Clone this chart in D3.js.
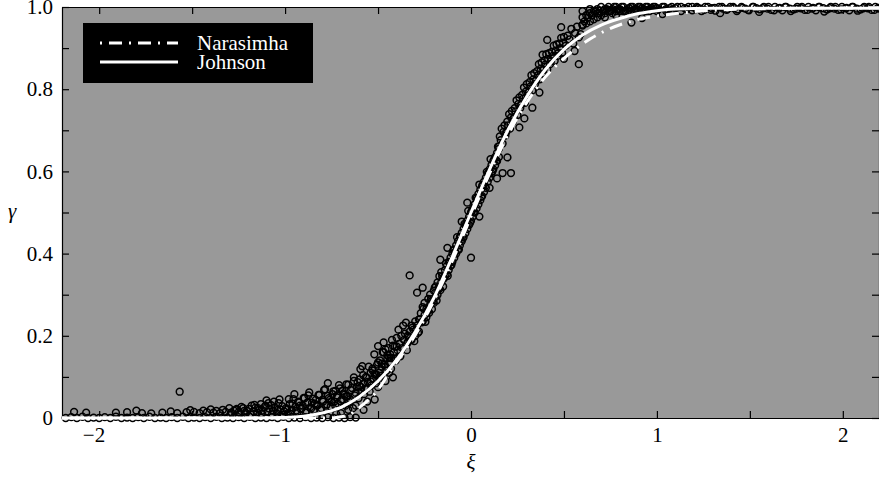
<!DOCTYPE html>
<html lang="en">
<head>
    <meta charset="UTF-8">
    <title>Intermittency profile</title>
    <script src="https://d3js.org/d3.v7.min.js"></script>
    <style>
        * {
            margin: 0;
            padding: 0;
            box-sizing: border-box;
        }

        body {
            background: #ffffff;
        }

        svg text {
            font-family: "Liberation Serif", Tinos, "Times New Roman", Times, serif;
            font-size: 21px;
        }

        .axis text {
            fill: #000;
        }

        .axis line,
        .axis path {
            stroke: #000;
            stroke-width: 1.2px;
        }
    </style>
</head>
<body>
    <div id="chart"></div>

    <script>
        // Tick values
        const xTicks = [-2, -1.5, -1, -0.5, 0, 0.5, 1, 1.5, 2];
        const yTicks = [0, 0.1, 0.2, 0.3, 0.4, 0.5, 0.6, 0.7, 0.8, 0.9, 1.0];
        const xTickLabels = {"-2": "\u22122", "-1": "\u22121", "0": "0", "1": "1", "2": "2"};
        const yTickLabels = {"0": "0", "0.2": "0.2", "0.4": "0.4", "0.6": "0.6", "0.8": "0.8", "1": "1.0"};

        // Curves
        const johnsonXi = [-2.2, -1.2, -1.0, -0.9, -0.8, -0.7, -0.6, -0.5, -0.4, -0.3, -0.2, -0.1, 0,
            0.1, 0.2, 0.3, 0.4, 0.5, 0.6, 0.7, 0.8, 0.9, 1.0, 1.1, 1.3, 1.6, 2.2];
        const johnsonGamma = [0, 0, 0.001, 0.004, 0.012, 0.026, 0.052, 0.09, 0.142, 0.21, 0.292, 0.393, 0.5,
            0.605, 0.702, 0.782, 0.848, 0.897, 0.932, 0.956, 0.972, 0.984, 0.991, 0.995, 0.997, 0.997, 0.997];

        const narasimhaXi = [-2.2, -0.75, -0.7, -0.64, -0.575, -0.51, -0.43, -0.3, -0.2, -0.1, 0,
            0.1, 0.2, 0.3, 0.4, 0.5, 0.64, 0.79, 0.9, 1.08, 1.3, 1.6, 2.2];
        const narasimhaGamma = [0, 0, 0.003, 0.012, 0.035, 0.063, 0.117, 0.202, 0.285, 0.383, 0.49,
            0.595, 0.69, 0.768, 0.83, 0.875, 0.922, 0.955, 0.97, 0.983, 0.992, 0.996, 0.998];

        // Measured points [xi, gamma]
        const baselinePoints = [
            [-2.18,0],[-2.15,.002],[-2.12,0],[-2.09,.003],[-2.06,0],[-2.03,.001],[-2.00,0],[-1.97,.002],
            [-1.94,0],[-1.91,.003],[-1.88,0],[-1.85,.001],[-1.82,0],[-1.79,.002],[-1.76,0],[-1.73,.003],
            [-1.70,0],[-1.67,.001],[-1.64,0],[-1.61,.002],[-1.58,0],[-1.55,.003],[-1.52,0],[-1.49,.001],
            [-1.46,0],[-1.43,.002],[-1.40,0],[-1.37,.003],[-1.34,0],[-1.31,.001],[-1.28,0],[-1.25,.002],
            [-1.22,0],[-1.19,.003],[-1.16,0],[-1.13,.001],[-1.10,0],[-1.07,.002],[-1.04,0],[-1.01,.003],
            [-0.98,0],[-0.95,.001],[-0.92,0],[-0.89,.002],[-0.86,0],[-0.83,.001],[-0.80,0],[-0.77,.002],
            [-0.74,0],[-0.71,.001],[-0.68,0],[-0.65,.002],[-0.62,.001]
        ];

        const lowTailPoints = [
            [-2.135,.015],[-2.07,.013],[-1.91,.013],[-1.85,.014],[-1.80,.018],[-1.77,.012],[-1.72,.011],
            [-1.66,.013],[-1.615,.016],[-1.58,.012],[-1.567,.064],[-1.53,.014],[-1.51,.019],[-1.49,.015],
            [-1.46,.012],[-1.44,.018],[-1.42,.014],[-1.40,.021],[-1.385,.013],[-1.37,.017],[-1.35,.012],
            [-1.335,.02],[-1.32,.015],[-1.30,.024],[-1.29,.013],[-1.275,.018],[-1.26,.022],[-1.25,.014],
            [-1.235,.027],[-1.22,.017],[-1.21,.012],[-1.195,.022],[-1.18,.03],[-1.17,.016],[-1.16,.025],
            [-1.15,.013],[-1.14,.02],[-1.13,.034],[-1.12,.018],[-1.11,.027],[-1.10,.043],[-1.095,.015],
            [-1.085,.023],[-1.075,.031],[-1.065,.018],[-1.055,.026],[-1.045,.012],[-1.035,.036],
            [-1.025,.021],[-1.015,.029],[-1.005,.016],
            [-1.295,.008],[-1.265,.02],[-1.245,.01],[-1.225,.024],[-1.205,.017],[-1.185,.009],[-1.165,.032],
            [-1.145,.024],[-1.125,.01],[-1.105,.03],[-1.09,.036],[-1.07,.009],[-1.06,.04],[-1.04,.02],
            [-1.03,.045],[-1.01,.008]
        ];

        const risePoints = [
            [-0.995,.024],[-0.985,.012],[-0.975,.034],[-0.965,.019],[-0.955,.046],[-0.945,.027],
            [-0.935,.014],[-0.925,.038],[-0.915,.022],[-0.905,.03],[-0.895,.048],[-0.885,.017],
            [-0.875,.055],[-0.865,.026],[-0.855,.037],[-0.845,.02],[-0.835,.044],[-0.825,.031],
            [-0.815,.056],[-0.805,.024],[-0.795,.04],[-0.785,.07],[-0.775,.033],[-0.77,.085],
            [-0.765,.048],[-0.755,.028],[-0.745,.058],[-0.735,.04],[-0.73,.066],[-0.725,.01],
            [-0.72,.05],[-0.715,.035],[-0.705,.072],[-0.70,.012],[-0.695,.045],[-0.685,.06],[-0.675,.03],
            [-0.67,.082],[-0.665,.052],[-0.66,.02],[-0.655,.04],[-0.645,.068],[-0.635,.024],[-0.63,.09],
            [-0.625,.055],[-0.62,.03],[-0.615,.075],[-0.605,.048],[-0.60,.094],[-0.595,.119],[-0.59,.065],
            [-0.585,.126],[-0.58,.083],[-0.578,.02],[-0.575,.058],[-0.565,.1],[-0.56,.072],[-0.558,.04],
            [-0.555,.088],[-0.545,.064],[-0.54,.11],[-0.535,.08],[-0.53,.12],[-0.525,.095],[-0.52,.155],
            [-0.518,.045],[-0.515,.105],[-0.51,.085],[-0.505,.13],[-0.50,.175],[-0.50,.075],[-0.495,.11],
            [-0.49,.14],[-0.485,.098],[-0.48,.125],[-0.475,.16],[-0.47,.184],[-0.465,.13],[-0.46,.167],
            [-0.46,.09],[-0.455,.115],[-0.45,.145],[-0.445,.17],[-0.44,.135],[-0.44,.11],[-0.435,.155],
            [-0.43,.12],[-0.425,.19],[-0.42,.099],[-0.415,.16],[-0.41,.174],[-0.405,.14],[-0.40,.195],
            [-0.395,.165],[-0.39,.215],[-0.385,.18],[-0.38,.15],[-0.375,.2],[-0.37,.17],[-0.365,.225],
            [-0.36,.19],[-0.355,.205],[-0.35,.232],[-0.345,.18]
        ];

        const riseDensePoints = [
            [-0.99,.021],[-0.98,.046],[-0.97,.01],[-0.96,.035],[-0.95,.058],[-0.94,.018],[-0.93,.04],
            [-0.92,.03],[-0.91,.024],[-0.90,.049],[-0.89,.013],[-0.88,.038],[-0.87,.062],[-0.86,.023],
            [-0.85,.047],[-0.84,.035],[-0.83,.03],[-0.82,.056],[-0.81,.02],[-0.80,.044],[-0.79,.068],
            [-0.78,.03],[-0.77,.054],[-0.76,.044],[-0.75,.039],[-0.74,.065],[-0.73,.03],[-0.72,.055],
            [-0.71,.08],[-0.70,.041],[-0.69,.066],[-0.68,.057],[-0.67,.053],[-0.66,.081],[-0.65,.046],
            [-0.64,.073],[-0.63,.099],[-0.62,.061],[-0.61,.087],[-0.60,.078],[-0.59,.075],[-0.58,.104],
            [-0.57,.071],[-0.56,.098],[-0.55,.125],[-0.54,.089],[-0.53,.116],[-0.52,.108],[-0.51,.106],
            [-0.50,.135],[-0.49,.103],[-0.48,.132],[-0.47,.16],[-0.46,.125],[-0.45,.153],[-0.44,.147],
            [-0.43,.146],[-0.42,.176],[-0.41,.145],[-0.40,.174]
        ];

        const middlePoints = [
            [-0.34,.20],[-0.34,.185],[-0.33,.347],[-0.33,.21],[-0.32,.19],[-0.32,.225],[-0.31,.215],
            [-0.30,.235],[-0.30,.20],[-0.29,.305],[-0.29,.225],[-0.28,.24],[-0.28,.21],[-0.27,.255],
            [-0.26,.317],[-0.26,.235],[-0.26,.27],[-0.25,.25],[-0.25,.28],[-0.24,.245],[-0.24,.265],
            [-0.23,.29],[-0.23,.26],[-0.22,.275],[-0.22,.30],[-0.21,.285],[-0.21,.265],[-0.20,.31],
            [-0.20,.28],[-0.19,.295],[-0.19,.32],[-0.18,.30],[-0.18,.33],[-0.17,.315],[-0.17,.345],
            [-0.165,.385],[-0.16,.33],[-0.16,.355],[-0.15,.34],[-0.15,.32],[-0.14,.36],[-0.14,.345],
            [-0.13,.37],[-0.13,.35],[-0.127,.414],[-0.12,.38],[-0.12,.36],[-0.11,.39],[-0.11,.37],
            [-0.10,.40],[-0.10,.38],[-0.09,.41],[-0.09,.39],[-0.08,.42],[-0.08,.40],[-0.07,.43],
            [-0.07,.41],[-0.06,.44],[-0.06,.42],[-0.05,.45],[-0.05,.478],[-0.05,.43],[-0.04,.46],
            [-0.04,.44],[-0.03,.47],[-0.03,.45],[-0.02,.524],[-0.02,.48],[-0.02,.46],[-0.01,.49],
            [-0.01,.47],[0.00,.50],[0.00,.39],[0.00,.48],[0.01,.51],[0.01,.49],[0.02,.52],[0.02,.50],
            [0.03,.535],[0.03,.51],[0.04,.545],[0.04,.52],[0.045,.49],[0.05,.555],[0.05,.53],
            [0.06,.565],[0.06,.54],[0.07,.575],[0.07,.55],[0.08,.585],[0.08,.56],[0.09,.595],
            [0.09,.575],[0.10,.605],[0.10,.56],[0.10,.585],[0.11,.615],[0.11,.595],[0.12,.625],
            [0.12,.605],[0.13,.635],[0.13,.615],[0.14,.583],[0.14,.645],[0.14,.625],[0.15,.655],[0.15,.635]
        ];

        const middleDensePoints = [
            [-0.345,.165],[-0.335,.197],[-0.325,.189],[-0.315,.22],[-0.305,.187],[-0.295,.214],
            [-0.285,.207],[-0.275,.24],[-0.265,.233],[-0.255,.266],[-0.245,.234],[-0.235,.262],
            [-0.225,.256],[-0.215,.289],[-0.205,.283],[-0.195,.317],[-0.185,.286],[-0.175,.316],
            [-0.165,.311],[-0.155,.345],[-0.145,.34],[-0.135,.376],[-0.125,.346],[-0.115,.377],
            [-0.105,.373],[-0.095,.408],[-0.085,.404],[-0.075,.44],[-0.065,.41],[-0.055,.441],
            [-0.045,.436],[-0.035,.472],[-0.025,.468],[-0.015,.504],[-0.005,.475],[0.005,.505],
            [0.015,.501],[0.025,.536],[0.035,.532],[0.045,.568],[0.055,.538],[0.065,.568],
            [0.075,.564],[0.085,.599],[0.095,.595],[0.105,.63],[0.115,.60],[0.125,.63],
            [0.135,.625],[0.145,.66]
        ];

        const upperPoints = [
            [0.150,.66],[0.155,.685],[0.160,.676],[0.165,.704],[0.170,.668],[0.175,.696],[0.180,.712],
            [0.185,.687],[0.190,.696],[0.195,.721],[0.200,.712],[0.205,.739],[0.210,.704],[0.215,.731],
            [0.220,.747],[0.225,.721],[0.230,.73],[0.235,.754],[0.240,.746],[0.245,.773],[0.250,.737],
            [0.255,.764],[0.260,.78],[0.265,.754],[0.270,.763],[0.275,.786],[0.280,.777],[0.285,.804],
            [0.290,.767],[0.295,.794],[0.300,.812],[0.305,.785],[0.310,.793],[0.315,.817],[0.320,.807],
            [0.325,.834],[0.330,.797],[0.335,.824],[0.340,.839],[0.345,.813],[0.350,.821],[0.355,.844],
            [0.360,.834],[0.365,.861],[0.370,.824],[0.375,.85],[0.380,.865],[0.385,.838],[0.390,.847],
            [0.395,.87],[0.400,.86],[0.405,.885],[0.410,.848],[0.415,.874],[0.420,.888],[0.425,.861],
            [0.430,.868],[0.435,.891],[0.440,.881],[0.445,.906],[0.450,.869],[0.455,.894],[0.460,.909],
            [0.465,.881],[0.470,.888],[0.475,.911],[0.480,.90],[0.485,.925],[0.490,.888],[0.495,.913],
            [0.500,.927],[0.51,.906],[0.52,.93],[0.53,.921],[0.54,.947],[0.55,.911],[0.56,.937],
            [0.57,.952],[0.58,.926],[0.59,.934],[0.60,.957],
            [0.17,.596],[0.196,.634],[0.215,.596],[0.26,.707],[0.287,.729],[0.33,.755],[0.368,.792],
            [0.41,.92],[0.385,.884],[0.485,.951],[0.50,.874],[0.557,.893],[0.58,.861]
        ];

        const plateauPoints = [
            [0.60,.955],[0.60,.975],[0.60,.99],[0.62,.96],[0.62,.98],[0.64,.965],[0.64,.985],[0.64,.995],
            [0.66,.97],[0.66,.99],[0.68,.975],[0.68,.995],[0.68,.985],[0.70,.98],[0.70,1.0],[0.72,.985],
            [0.72,.995],[0.72,.975],[0.74,.99],[0.74,1.0],[0.76,.985],[0.76,.995],[0.78,.99],[0.78,1.0],
            [0.78,.98],[0.80,.995],[0.80,.99],[0.82,.99],[0.82,1.0],[0.84,.995],[0.84,.985],[0.863,.962],
            [0.86,1.0],[0.86,.99],[0.88,.995],[0.88,.99],[0.90,1.0],[0.90,.993],[0.92,.973],[0.92,.997],
            [0.94,.99],[0.94,1.0],[0.96,.995],[0.96,.99],[0.98,1.0],[0.98,.993],[1.00,.997],[1.00,.99],
            [1.03,.983],[1.03,1.0],[1.05,.995],[1.05,.99],[1.08,1.0],[1.08,.993],[1.10,.997],[1.13,.99],
            [1.13,1.0],[1.16,.995],[1.19,1.0],[1.19,.992],
            [0.61,.965],[0.63,.975],[0.65,.98],[0.67,.99],[0.69,.985],[0.71,.99],[0.73,.995],[0.75,.99],
            [0.77,1.0],[0.79,.995],[0.81,1.0],[0.83,.99],[0.85,.997],[0.87,1.0],[0.89,.995],[0.91,1.0],
            [0.93,.995],[0.95,1.0],[0.97,.997],[0.99,1.0],[1.01,.995],[1.04,1.0],[1.07,.997],[1.11,1.0],
            [1.15,.997],[1.17,1.0],[1.21,.995]
        ];

        const farPoints = [
            [1.22,.998],[1.24,.99],[1.26,1.0],[1.29,.993],[1.31,.998],[1.34,.985],[1.35,1.0],[1.38,.995],
            [1.41,1.0],[1.43,.99],[1.46,.998],[1.49,.993],[1.52,1.0],[1.55,.988],[1.57,.997],[1.60,1.0],
            [1.63,.992],[1.66,.998],[1.69,1.0],[1.72,.99],[1.75,.996],[1.78,1.0],[1.81,.993],[1.84,.998],
            [1.87,1.0],[1.90,.989],[1.93,.997],[1.96,1.0],[1.99,.994],[2.02,.998],[2.05,1.0],[2.08,.991],
            [2.11,.997],[2.14,1.0],[2.17,.993],[2.19,.998],
            [1.215,1.0],[1.235,.996],[1.255,.993],[1.275,1.0],[1.295,.997],[1.315,.991],[1.335,1.0],
            [1.355,.996],[1.375,.993],[1.395,1.0],[1.415,.997],[1.435,.994],[1.455,1.0],[1.475,.996],
            [1.495,.992],[1.515,1.0],[1.535,.997],[1.555,.994],[1.575,1.0],[1.595,.996],[1.615,.993],
            [1.635,1.0],[1.655,.997],[1.675,.992],[1.695,1.0],[1.715,.996],[1.735,.994],[1.755,1.0],
            [1.775,.997],[1.795,.993],[1.815,1.0],[1.835,.996],[1.855,.992],[1.875,1.0],[1.895,.997],
            [1.915,.994],[1.935,1.0],[1.955,.996],[1.975,.993],[1.995,1.0],[2.015,.997],[2.035,.992],
            [2.055,1.0],[2.075,.996],[2.095,.994],[2.115,1.0],[2.135,.997],[2.155,.993],[2.175,1.0],[2.195,.996]
        ];

        const points = [].concat(baselinePoints, lowTailPoints, risePoints, riseDensePoints,
            middlePoints, middleDensePoints, upperPoints, plateauPoints, farPoints);

        // Dimensions
        const width = 879, height = 480;
        const plot = {left: 62, right: 880, top: 7, bottom: 418};

        const svg = d3.select("#chart")
            .append("svg")
            .attr("width", width)
            .attr("height", height);

        const x = d3.scaleLinear().domain([-2.2, 2.2]).range([plot.left, plot.right]);
        const y = d3.scaleLinear().domain([0, 1]).range([plot.bottom, plot.top]);

        // Plot background
        svg.append("rect")
            .attr("x", plot.left)
            .attr("y", plot.top)
            .attr("width", plot.right - plot.left)
            .attr("height", plot.bottom - plot.top)
            .attr("fill", "#999999");

        // Axes (ticks point inward)
        const xAxis = svg.append("g")
            .attr("class", "axis")
            .attr("transform", `translate(0,${plot.bottom})`)
            .call(d3.axisBottom(x).tickValues(xTicks).tickSizeInner(-7).tickSizeOuter(0).tickPadding(9)
                .tickFormat(d => xTickLabels[String(d)] || ""));
        xAxis.selectAll("text")
            .filter(d => d < 0)
            .attr("text-anchor", "end")
            .attr("x", 5.5);

        svg.append("g")
            .attr("class", "axis")
            .attr("transform", `translate(0,${plot.top})`)
            .call(d3.axisTop(x).tickValues(xTicks).tickSizeInner(-7).tickSizeOuter(0).tickFormat(""));

        svg.append("g")
            .attr("class", "axis")
            .attr("transform", `translate(${plot.left},0)`)
            .call(d3.axisLeft(y).tickValues(yTicks).tickSizeInner(-7).tickSizeOuter(0).tickPadding(9)
                .tickFormat(d => yTickLabels[String(+d.toFixed(1))] || ""));

        svg.append("g")
            .attr("class", "axis")
            .attr("transform", `translate(${plot.right - 1},0)`)
            .call(d3.axisRight(y).tickValues(yTicks).tickSizeInner(-7).tickSizeOuter(0).tickFormat(""));

        // Scatter
        svg.append("g")
            .selectAll("circle")
            .data(points)
            .enter()
            .append("circle")
            .attr("cx", d => x(d[0]))
            .attr("cy", d => y(d[1]))
            .attr("r", 3.4)
            .attr("fill", "none")
            .attr("stroke", "#000")
            .attr("stroke-width", 1.5);

        // Curves
        const line = d3.line()
            .x(d => x(d[0]))
            .y(d => y(d[1]))
            .curve(d3.curveMonotoneX);

        svg.append("path")
            .datum(d3.zip(narasimhaXi, narasimhaGamma))
            .attr("d", line)
            .attr("fill", "none")
            .attr("stroke", "#fff")
            .attr("stroke-width", 3)
            .attr("stroke-dasharray", "2,7,13,7");

        svg.append("path")
            .datum(d3.zip(johnsonXi, johnsonGamma))
            .attr("d", line)
            .attr("fill", "none")
            .attr("stroke", "#fff")
            .attr("stroke-width", 3);

        // Axis titles
        svg.append("text")
            .attr("x", 8)
            .attr("y", 218)
            .style("font-style", "italic")
            .text("\u03b3");

        svg.append("text")
            .attr("x", x(0))
            .attr("y", 469)
            .attr("text-anchor", "middle")
            .style("font-style", "italic")
            .text("\u03be");

        // Legend
        const legend = svg.append("g");
        legend.append("rect")
            .attr("x", 83).attr("y", 23)
            .attr("width", 230).attr("height", 60)
            .attr("fill", "#000");

        const legendItems = [
            {name: "Narasimha", dash: "2,7,13,7", y: 43},
            {name: "Johnson", dash: null, y: 62}
        ];

        legendItems.forEach(item => {
            legend.append("line")
                .attr("x1", 100).attr("x2", 178)
                .attr("y1", item.y).attr("y2", item.y)
                .attr("stroke", "#fff")
                .attr("stroke-width", 3)
                .attr("stroke-dasharray", item.dash);
            legend.append("text")
                .attr("x", 197)
                .attr("y", item.y + 7)
                .attr("fill", "#fff")
                .text(item.name);
        });
    </script>
</body>
</html>
